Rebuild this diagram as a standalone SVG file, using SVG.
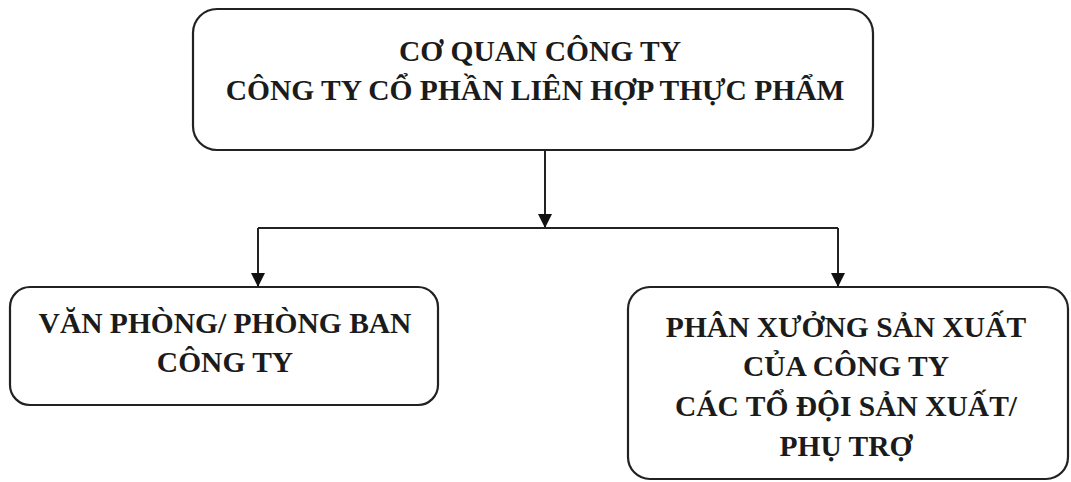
<svg xmlns="http://www.w3.org/2000/svg" width="1071" height="482" viewBox="0 0 1071 482">
<style>
.box{fill:#fff;stroke:#222;stroke-width:2.2}
.t{font-family:"Liberation Serif","Times New Roman",serif;font-weight:bold;font-size:29.5px;fill:#1b1b1b;text-anchor:middle}
.c{fill:none;stroke:#222;stroke-width:2}
</style>
<defs>
<marker id="ah" viewBox="0 0 10 10" refX="10" refY="5" markerWidth="14" markerHeight="14" markerUnits="userSpaceOnUse" orient="auto">
<path d="M0,0 L10,5 L0,10 Z" fill="#111"/>
</marker>
</defs>
<rect width="1071" height="482" fill="#fff"/>
<g id="top">
<rect class="box" x="193" y="9" width="680" height="141" rx="24"/>
<text class="t" x="540" y="61">CƠ QUAN CÔNG TY</text>
<text class="t" x="535" y="100">CÔNG TY CỔ PHẦN LIÊN HỢP THỰC PHẨM</text>
</g>
<g id="left">
<rect class="box" x="10" y="287" width="428" height="118" rx="20"/>
<text class="t" x="225" y="333">VĂN PHÒNG/ PHÒNG BAN</text>
<text class="t" x="225" y="372">CÔNG TY</text>
</g>
<g id="right">
<rect class="box" x="628" y="287" width="440" height="192" rx="22"/>
<text class="t" x="846" y="337">PHÂN XƯỞNG SẢN XUẤT</text>
<text class="t" x="846" y="376">CỦA CÔNG TY</text>
<text class="t" x="846" y="416">CÁC TỔ ĐỘI SẢN XUẤT/</text>
<text class="t" x="846" y="456">PHỤ TRỢ</text>
</g>
<g id="connectors">
<path class="c" d="M545,150 V228" marker-end="url(#ah)"/>
<path class="c" d="M258,228 H838"/>
<path class="c" d="M258,228 V287" marker-end="url(#ah)"/>
<path class="c" d="M838,228 V287" marker-end="url(#ah)"/>
</g>
</svg>
